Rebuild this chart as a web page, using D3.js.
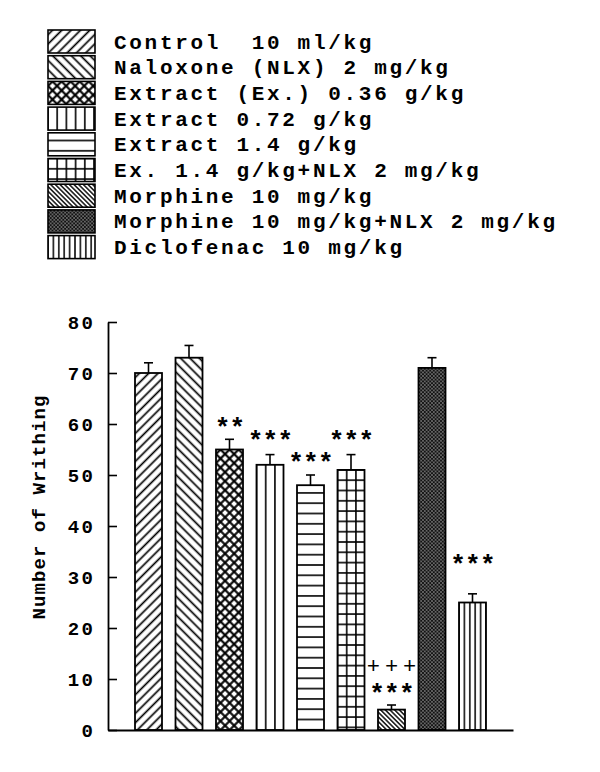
<!DOCTYPE html>
<html>
<head>
<meta charset="utf-8">
<script src="https://cdn.jsdelivr.net/npm/d3@7"></script>
<style>
  body { margin: 0; background: #fff; }
  svg { display: block; }
  text { font-family: "Liberation Mono", monospace; fill: #000; }
</style>
</head>
<body>
<div id="chart"></div>
<script>
// groups, in legend / bar order
const groups = [
  'Control  10 ml/kg',
  'Naloxone (NLX) 2 mg/kg',
  'Extract (Ex.) 0.36 g/kg',
  'Extract 0.72 g/kg',
  'Extract 1.4 g/kg',
  'Ex. 1.4 g/kg+NLX 2 mg/kg',
  'Morphine 10 mg/kg',
  'Morphine 10 mg/kg+NLX 2 mg/kg',
  'Diclofenac 10 mg/kg'
]
const means = [70, 73, 55, 52, 48, 51, 4, 71, 25]
const sems = [2, 2.4, 2, 2, 2, 3, 0.9, 2, 1.7]
// significance marks and the level (in writhing units) where they sit
const sigMarks = ['', '', '**', '***', '***', '***', '***', '', '***']
const sigLevels = [null, null, 60.6, 58.1, 53.7, 58.1, 8.5, null, 33.7]
const plusMarks = ['', '', '', '', '', '', '+++', '', '']
const plusLevels = [null, null, null, null, null, null, 12.5, null, null]
const fills = ['fwd', 'back', 'cross', 'vert', 'horiz', 'grid', 'denseBack', 'dots', 'denseVert']
const yTicks = [0, 10, 20, 30, 40, 50, 60, 70, 80]

const W = 600, H = 772

const svg = d3.select('#chart').append('svg')
  .attr('width', W)
  .attr('height', H)

const defs = svg.append('defs')

/* pattern builder: each use gets its own pattern so lines line up with the box */
function addPattern(id, kind, ox, oy) {
  const p = defs.append('pattern')
    .attr('id', id)
    .attr('patternUnits', 'userSpaceOnUse')
  const line = (x1, y1, x2, y2, w) => p.append('line')
    .attr('x1', x1).attr('y1', y1).attr('x2', x2).attr('y2', y2)
    .attr('stroke', '#000').attr('stroke-width', w)
  const bg = (w, h, c) => p.append('rect').attr('width', w).attr('height', h).attr('fill', c)

  switch (kind) {
    case 'fwd':
    case 'back': {
      const s = 6.6
      p.attr('width', s).attr('height', 10)
        .attr('patternTransform', `translate(${ox},${oy}) rotate(${kind == 'fwd' ? 45 : -45})`)
      bg(s, 10, '#fff')
      line(s / 2, 0, s / 2, 10, 1.7)
      break
    }
    case 'cross': {
      const s = 6.4
      p.attr('width', s).attr('height', s)
        .attr('patternTransform', `translate(${ox},${oy}) rotate(45)`)
      bg(s, s, '#fff')
      line(s / 2, 0, s / 2, s, 2.1)
      line(0, s / 2, s, s / 2, 2.1)
      break
    }
    case 'vert': {
      const s = 9.2
      p.attr('width', s).attr('height', 10).attr('x', ox).attr('y', oy)
      bg(s, 10, '#fff')
      line(s, 0, s, 10, 1.6)
      line(0, 0, 0, 10, 1.6)
      break
    }
    case 'horiz': {
      const s = 10.3
      p.attr('width', 10).attr('height', s).attr('x', ox).attr('y', oy - 2.6)
      bg(10, s, '#fff')
      line(0, 0, 10, 0, 1.6)
      line(0, s, 10, s, 1.6)
      break
    }
    case 'grid': {
      const sx = 9.2, sy = 10.3
      p.attr('width', sx).attr('height', sy).attr('x', ox).attr('y', oy)
      bg(sx, sy, '#fff')
      line(0, 0, 0, sy, 1.6)
      line(sx, 0, sx, sy, 1.6)
      line(0, 0, sx, 0, 1.6)
      line(0, sy, sx, sy, 1.6)
      break
    }
    case 'denseBack': {
      const s = 3.3
      p.attr('width', s).attr('height', 10)
        .attr('patternTransform', `translate(${ox},${oy}) rotate(-45)`)
      bg(s, 10, '#fff')
      line(s / 2, 0, s / 2, 10, 1.4)
      break
    }
    case 'dots': {
      const s = 3.6
      p.attr('width', s).attr('height', s).attr('x', ox).attr('y', oy)
      bg(s, s, '#111')
      p.append('circle').attr('cx', 0.9).attr('cy', 0.9).attr('r', 0.6).attr('fill', '#fff')
      p.append('circle').attr('cx', 2.7).attr('cy', 2.7).attr('r', 0.6).attr('fill', '#fff')
      break
    }
    case 'denseVert': {
      const s = 5.4
      p.attr('width', s).attr('height', 10).attr('x', ox).attr('y', oy)
      bg(s, 10, '#fff')
      line(0, 0, 0, 10, 1.5)
      line(s, 0, s, 10, 1.5)
      break
    }
  }
  return `url(#${id})`
}

/* Legend */
const legX = 48, legTop = 30, legStep = 25.7, swW = 47, swH = 23

const legend = svg.append('g').attr('class', 'legend')
groups.forEach((g, i) => {
  const y = legTop + i * legStep
  legend.append('rect')
    .attr('x', legX)
    .attr('y', y)
    .attr('width', swW)
    .attr('height', swH)
    .attr('fill', addPattern('leg' + i, fills[i], legX, y))
    .attr('stroke', '#000')
    .attr('stroke-width', 1.6)
  legend.append('text')
    .attr('x', 114)
    .attr('y', y + swH / 2 + 7)
    .attr('font-size', 21)
    .attr('font-weight', 'bold')
    .attr('letter-spacing', 2.7)
    .attr('xml:space', 'preserve')
    .style('white-space', 'pre')
    .text(g)
})

/* Scales */
const x = d3.scaleBand()
  .domain(d3.range(groups.length))
  .range([108, 513])
  .paddingInner(1 / 3)
  .paddingOuter(2 / 3)

const y = d3.scaleLinear()
  .domain([0, 80])
  .range([730, 322])

/* Bars */
const bars = svg.append('g').attr('class', 'bars')
means.forEach((m, i) => {
  const bx = x(i), by = y(m)
  bars.append('rect')
    .attr('x', bx)
    .attr('y', by)
    .attr('width', x.bandwidth())
    .attr('height', y(0) - by)
    .attr('fill', addPattern('bar' + i, fills[i], bx, by))
    .attr('stroke', '#000')
    .attr('stroke-width', 1.8)
})

/* Error bars (upper only) */
const errs = svg.append('g').attr('class', 'errs')
  .attr('stroke', '#000').attr('stroke-width', 1.6)
means.forEach((m, i) => {
  const cx = x(i) + x.bandwidth() / 2
  errs.append('line')
    .attr('x1', cx).attr('x2', cx)
    .attr('y1', y(m)).attr('y2', y(m + sems[i]))
  errs.append('line')
    .attr('x1', cx - 4.5).attr('x2', cx + 4.5)
    .attr('y1', y(m + sems[i])).attr('y2', y(m + sems[i]))
})

/* Significance marks */
const marks = svg.append('g').attr('class', 'marks')
sigMarks.forEach((s, i) => {
  if (!s) return
  marks.append('text')
    .attr('x', x(i) + x.bandwidth() / 2)
    .attr('y', y(sigLevels[i]) + 15)
    .attr('text-anchor', 'middle')
    .attr('font-family', '"DejaVu Sans", sans-serif')
    .attr('font-size', 26)
    .attr('font-weight', 'bold')
    .attr('letter-spacing', -0.8)
    .text(s)
})
plusMarks.forEach((s, i) => {
  if (!s) return
  marks.append('text')
    .attr('x', x(i) + x.bandwidth() / 2 + 2.5)
    .attr('y', y(plusLevels[i]) + 7)
    .attr('text-anchor', 'middle')
    .attr('font-size', 22)
    .attr('letter-spacing', 5)
    .text(s)
})

/* Axes */
const yAxis = d3.axisLeft(y)
  .tickValues(yTicks)
  .tickSizeInner(-9)
  .tickSizeOuter(0)
  .tickPadding(13)

const yg = svg.append('g')
  .attr('transform', 'translate(108,0)')
  .call(yAxis)
yg.select('.domain').attr('stroke-width', 1.8)
yg.selectAll('.tick line').attr('stroke-width', 1.6)
yg.selectAll('.tick text')
  .attr('font-family', '"Liberation Mono", monospace')
  .attr('font-size', 19)
  .attr('font-weight', 'bold')
  .attr('letter-spacing', 2.2)

const xAxis = d3.axisBottom(x)
  .tickSize(0)
  .tickFormat('')

const xg = svg.append('g')
  .attr('transform', 'translate(0,730)')
  .call(xAxis)
xg.select('.domain').attr('stroke-width', 1.8)

svg.append('text')
  .attr('transform', 'translate(38,507) rotate(-90)')
  .attr('text-anchor', 'middle')
  .attr('dy', '0.35em')
  .attr('font-size', 19)
  .attr('font-weight', 'bold')
  .attr('letter-spacing', 1.1)
  .text('Number of Writhing')
</script>
</body>
</html>
